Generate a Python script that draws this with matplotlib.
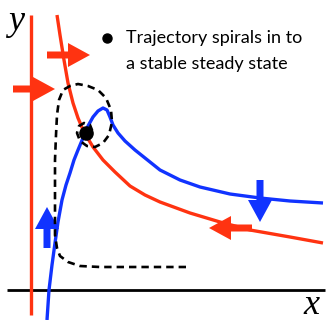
import matplotlib.pyplot as plt

# picture coordinates in pixels, y grows downward
red_x = [57, 60, 64, 68, 73, 78, 84, 93, 103, 115, 130, 145, 160, 190, 220, 250, 290, 323]
red_y = [15, 35, 60, 83, 103, 118, 132, 147, 160, 172, 186, 195, 202, 213, 222, 230, 237, 243]

blue_x = [47, 49, 52, 55, 58, 62, 66, 70, 74, 78, 83, 88, 93, 98, 103, 107, 110, 113, 118, 125,
          135, 145, 160, 180, 200, 230, 260, 290, 323]
blue_y = [320, 290, 265, 243, 222, 200, 185, 173, 160, 150, 138, 126, 117, 111, 108, 110, 117, 125,
          133, 141, 150, 158, 170, 180, 187, 194, 198, 201, 203]

traj_x = [186, 160, 130, 100, 80, 68, 60, 57, 55, 55, 55, 55, 56, 57, 59, 63, 70, 78, 88, 98,
          106, 111, 112, 109, 103, 95, 87, 80, 77, 79, 84, 90, 92, 88, 86]
traj_y = [267, 267, 267, 267, 266, 262, 256, 248, 235, 210, 180, 160, 135, 115, 100, 90, 86, 84,
          86, 90, 98, 110, 122, 135, 143, 147, 146, 141, 133, 126, 123, 125, 130, 133, 133]

steady = (86, 133)

# arrows: start x, start y, dx, dy, colour
arrows = [
    (47, 55, 43, 0, 'red'),
    (13, 89, 42, 0, 'red'),
    (252, 228, -43, 0, 'red'),
    (47, 248, 0, -41, 'blue'),
    (260, 180, 0, 42, 'blue'),
]

red = '#ff3311'
blue = '#1133ff'
colours = {'red': red, 'blue': blue}

fig = plt.figure(figsize=(3.29, 3.20), dpi=100)
ax = fig.add_axes([0, 0, 1, 1])
ax.set_xlim(0, 329)
ax.set_ylim(320, 0)
ax.axis('off')

# axes of the phase plane
ax.plot([7, 325], [290, 290], color='black', lw=2.0, solid_capstyle='butt')
ax.plot([31, 31], [15, 315], color=red, lw=2.4, solid_capstyle='butt')

ax.plot(red_x, red_y, color=red, lw=2.4, solid_capstyle='butt')
ax.plot(blue_x, blue_y, color=blue, lw=2.4, solid_capstyle='butt')
ax.plot(traj_x, traj_y, color='black', lw=1.9, ls=(0, (2.8, 1.9)))
ax.plot(*steady, 'o', color='black', ms=9.5)

for x0, y0, dx, dy, c in arrows:
    ax.arrow(x0, y0, dx, dy, width=7, head_width=24, head_length=22,
             length_includes_head=True, color=colours[c], lw=0)

ax.plot(107, 38, 'o', color='black', ms=6.5)
ax.text(126, 38, 'Trajectory spirals in to', fontsize=13, family='Lato', va='center')
ax.text(126, 64, 'a stable steady state', fontsize=13, family='Lato', va='center')

ax.text(16, 22, 'y', fontsize=26, family='Liberation Serif', style='italic', ha='center', va='center')
ax.text(311, 305, 'x', fontsize=26, family='Liberation Serif', style='italic', ha='center', va='center')

fig.savefig('out.png', dpi=100)
